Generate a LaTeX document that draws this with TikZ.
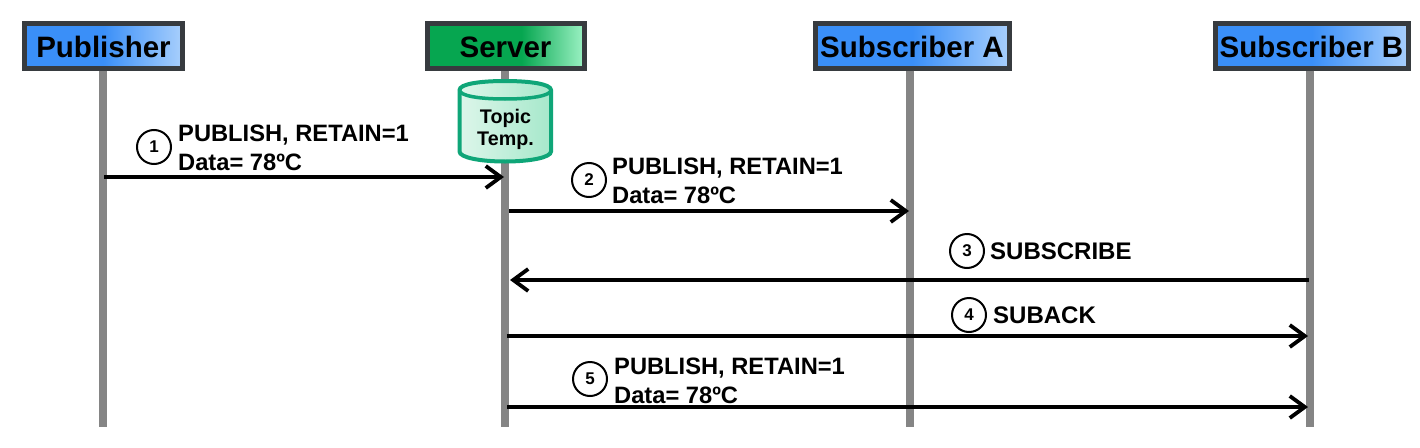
\documentclass[tikz,border=0pt]{standalone}
\usepackage{fontspec}
\setmainfont{Liberation Sans}
\usetikzlibrary{arrows.meta}
\definecolor{bluedeep}{HTML}{3A8FF8}
\definecolor{bluelite}{HTML}{A8CFFC}
\definecolor{greendeep}{HTML}{06A650}
\definecolor{greenlite}{HTML}{9CF2C4}
\definecolor{cyllite}{HTML}{DDF6EA}
\definecolor{cyldeep}{HTML}{A6E8CB}
\definecolor{cylline}{HTML}{0FA678}
\definecolor{framegray}{HTML}{373B3F}
\definecolor{lifegray}{HTML}{858585}
\pgfdeclarehorizontalshading{bluebar}{100bp}{color(0bp)=(bluedeep);color(25bp)=(bluedeep);color(50bp)=(bluedeep);color(75bp)=(bluelite);color(100bp)=(bluelite)}
\pgfdeclarehorizontalshading{greenbar}{100bp}{color(0bp)=(greendeep);color(25bp)=(greendeep);color(55bp)=(greendeep);color(75bp)=(greenlite);color(100bp)=(greenlite)}
\pgfdeclarehorizontalshading{cylbar}{100bp}{color(0bp)=(cyllite);color(25bp)=(cyllite);color(75bp)=(cyldeep);color(100bp)=(cyldeep)}
\tikzset{
  actor/.style={draw=framegray,line width=4.5pt,minimum height=45pt,inner sep=0pt,anchor=north west},
  actortext/.style={anchor=base,inner sep=0pt,font=\fontsize{29.5}{29.5}\selectfont\bfseries},
  blueactor/.style={actor,shading=bluebar},
  greenactor/.style={actor,shading=greenbar},
  life/.style={draw=lifegray,line width=8pt},
  msg/.style={draw=black,line width=3.8pt,-{Straight Barb[length=15pt,width=22pt,line width=3.8pt]}},
  num/.style={circle,draw=black,fill=white,line width=2pt,minimum size=34pt,inner sep=0pt,font=\fontsize{17}{17}\selectfont\bfseries},
  lab/.style={anchor=base west,inner sep=0pt,font=\fontsize{23.7}{23.7}\selectfont\bfseries},
  labwide/.style={lab,font=\fontsize{24}{24}\selectfont\bfseries},
  toptext/.style={font=\fontsize{19.7}{19.7}\selectfont\bfseries,anchor=base,inner sep=0pt},
}
\begin{document}
\begin{tikzpicture}[x=1pt,y=-1pt]
\useasboundingbox[fill=white] (0,0) rectangle (1420,447);
% end points
\coordinate (pubend) at (103,427);
\coordinate (srvend) at (505,427);
\coordinate (aend) at (910,427);
\coordinate (bend) at (1309.5,427);
% actors
\node[blueactor,minimum width=158pt] (pub) at (22,21) {};
\node[greenactor,minimum width=157pt] (srv) at (425,21) {};
\node[blueactor,minimum width=194pt] (suba) at (813,21) {};
\node[blueactor,minimum width=193pt] (subb) at (1213,21) {};
\node[actortext] (pubt) at (103.5,57) {Publisher};
\node[actortext] (srvt) at (505.5,57) {Server};
\node[actortext] (subat) at (912,57) {Subscriber A};
\node[actortext] (subbt) at (1311.5,57) {Subscriber B};
% lifelines
\draw[life] (pub.south -| pubend) -- (pubend);
\draw[life] (srv.south -| srvend) -- (srvend);
\draw[life] (suba.south -| aend) -- (aend);
\draw[life] (subb.south -| bend) -- (bend);
% cylinder
\path[shading=cylbar,draw=cylline,line width=4pt]
  (459.5,90) -- (459.5,151.5) .. controls (459.5,157.5) and (480,161.5) .. (505,161.5)
  .. controls (530,161.5) and (551,157.5) .. (551,151.5) -- (551,90)
  .. controls (551,84) and (530,81) .. (505,81) .. controls (480,81) and (459.5,84) .. (459.5,90) -- cycle;
\draw[cylline,line width=3.5pt] (459.5,90) .. controls (459.5,96) and (480,99) .. (505,99) .. controls (530,99) and (551,96) .. (551,90);
\node[toptext] (t1) at (505.5,123) {Topic};
\node[toptext] (t2) at (505.5,145) {Temp.};
% anchors for messages
\coordinate (m1a) at (104,177); \coordinate (m1b) at (504,177);
\coordinate (m2a) at (509,211); \coordinate (m2b) at (909,211);
\coordinate (m3a) at (1309,280); \coordinate (m3b) at (510,280);
\coordinate (m4a) at (507,336); \coordinate (m4b) at (1308,336);
\coordinate (m5a) at (507,407); \coordinate (m5b) at (1308,407);
\draw[msg] (m1a) -- (m1b);
\draw[msg] (m2a) -- (m2b);
\draw[msg] (m3a) -- (m3b);
\draw[msg] (m4a) -- (m4b);
\draw[msg] (m5a) -- (m5b);
% numbers
\node[num] (n1) at (154,147) {1};
\node[num] (n2) at (589,180) {2};
\node[num] (n3) at (967,251) {3};
\node[num] (n4) at (969,315) {4};
\node[num] (n5) at (590,379) {5};
% labels
\node[lab] (l1a) at (178,141) {PUBLISH, RETAIN=1};
\node[lab] (l1b) at (178,170) {Data= 78ºC};
\node[lab] (l2a) at (612,174) {PUBLISH, RETAIN=1};
\node[lab] (l2b) at (612,203) {Data= 78ºC};
\node[labwide] (l3) at (990,259) {SUBSCRIBE};
\node[labwide] (l4) at (993,323) {SUBACK};
\node[lab] (l5a) at (614,374) {PUBLISH, RETAIN=1};
\node[lab] (l5b) at (614,403) {Data= 78ºC};
\end{tikzpicture}
\end{document}
